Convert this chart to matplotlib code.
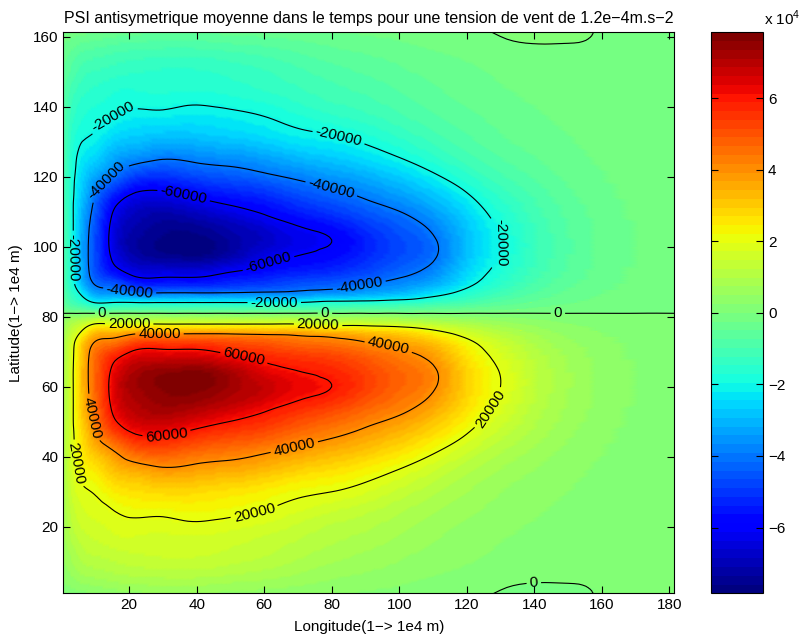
import numpy as np
import matplotlib
matplotlib.use('Agg')
import matplotlib.pyplot as plt
import matplotlib.tri as mtri
from matplotlib.ticker import FuncFormatter

plt.rcParams['font.family'] = ['Liberation Sans', 'DejaVu Sans']
plt.rcParams['mathtext.fontset'] = 'custom'
plt.rcParams['mathtext.rm'] = 'Liberation Sans'
plt.rcParams['axes.linewidth'] = 0.8

# grille (1 -> 1e4 m) ; seule la moitie sud est stockee, le nord en est l'oppose
lon = [0.5, 3, 6, 10, 15, 22, 30, 40, 50, 60, 70, 80, 90, 100, 110, 120, 130,
       145, 160, 181.5]
lat_south = [0.7, 6, 12, 18, 24, 30, 36, 42, 48, 54, 60, 65, 70, 73, 76, 78, 80]

# PSI moyen dans le temps (en milliers), une ligne par latitude de lat_south
psi_south_k = [
    [0.5, 1, 1.5, 2, 3, 4, 4.5, 4.5, 4, 3.5, 3, 2.5, 2, 1.5, 1, 0.8, -0.4, -1.4, 0.3, 0.4],
    [3, 5, 7, 8, 9, 10, 10.5, 10.5, 9.5, 8.5, 7, 5.5, 4.5, 3.5, 2.5, 1.8, 1, 0.6, 0.5, 0.4],
    [5, 8, 11, 12.5, 13.5, 14.5, 15, 15, 14, 12.5, 10.5, 8.5, 7, 5.5, 4, 3, 2, 1.3, 0.8, 0.4],
    [6.5, 11, 14, 15.5, 17, 17.5, 17, 17.5, 16.5, 15, 13, 11, 9.5, 7.5, 5.5, 4, 2.8, 1.8, 1, 0.4],
    [7.5, 13, 16.5, 18, 19.5, 21, 21, 22, 21, 19.5, 17, 14.5, 12.5, 10, 7.5, 5.5, 3.8, 2.3, 1.2, 0.4],
    [8, 15, 19, 20.5, 24, 26.5, 28, 27.5, 26, 24, 21.5, 20, 17.5, 14, 10.5, 7.5, 5, 3, 1.5, 0.4],
    [8.5, 16.5, 22, 25, 31, 35, 38, 36.5, 35, 32.5, 29, 26.5, 23.5, 19.5, 15, 10.5, 7, 4, 2, 0.4],
    [9, 17.5, 25, 33, 40, 49, 51, 47.5, 45, 42, 38.5, 35, 31.5, 27, 21.5, 15.5, 10.5, 5.5, 2.6, 0.4],
    [9, 18, 28, 41, 54, 63, 64, 60, 56, 53, 48, 44, 39.5, 35, 29, 21.5, 14.5, 7.5, 3.3, 0.4],
    [9, 18, 31, 45, 61, 70, 73, 71, 67, 62, 57, 53, 47.5, 42.5, 36, 26.5, 18, 9, 4, 0.4],
    [9, 18, 32, 47, 63, 73, 76.5, 77.5, 73, 68, 63, 60, 53.5, 47, 41, 29, 20, 10, 4.4, 0.4],
    [9, 18, 32, 47, 61, 71, 74, 75, 70.5, 63, 59.5, 57, 52, 46.5, 41, 28.5, 19.5, 9.8, 4.3, 0.4],
    [8.5, 17.5, 31, 45, 53, 61.5, 62, 62, 58, 55, 52, 50, 46, 41.5, 36, 25, 17, 8.5, 3.8, 0.4],
    [8, 16.5, 28, 40, 43, 51, 52, 52, 50, 48, 45, 43, 39.5, 36, 30.5, 21.5, 14.5, 7, 3.2, 0.4],
    [6.5, 13, 20, 30, 31, 34, 34, 34, 34, 33.5, 33, 31, 29, 26.5, 21, 15, 10, 5, 2.3, 0.3],
    [5, 10, 14, 20, 19.5, 19.5, 19.5, 19.5, 19.5, 19.5, 19.5, 17, 16.5, 15, 12.5, 9.5, 6.5, 3.3, 1.6, 0.3],
    [2.5, 4, 5, 7, 6.5, 6.5, 6.5, 6.5, 6.5, 6.5, 6.5, 6, 5.5, 5, 4, 3, 2.2, 1.2, 0.6, 0.2],
]

levels = [-60000, -40000, -20000, 0, 20000, 40000, 60000]
cbar_ticks = [-60000, -40000, -20000, 0, 20000, 40000, 60000]

# endroits ou poser les etiquettes des isolignes
label_spots = [
    (20, 78.5), (76, 78), (128, 53), (57, 24.5), (4, 38),
    (29, 75.5), (97, 72.5), (8, 51), (69, 42.5),
    (54, 68), (31, 47),
    (12, 81), (78, 81), (147, 81), (140, 1.5),
    (16, 136), (82, 131), (4, 97), (63, 84.7), (128, 101),
    (14, 118), (80, 117), (20, 86.5), (88, 90),
    (36, 114), (61, 96),
]

# partie antisymetrique : psi(x, 162 - y) = -psi(x, y)
lat_s = np.array(lat_south, dtype=float)
psi_s = np.array(psi_south_k) * 1000.0
lat = np.concatenate([lat_s, 162 - lat_s[::-1]])
psi = np.vstack([psi_s, -psi_s[::-1]])

X, Y = np.meshgrid(lon, lat)
ny, nx = psi.shape
idx = np.arange(nx * ny).reshape(ny, nx)
half = (ny - 1) // 2
tris = []
for j in range(ny - 1):
    for i in range(nx - 1):
        a, b = idx[j, i], idx[j, i + 1]
        c, d = idx[j + 1, i], idx[j + 1, i + 1]
        if j < half:
            tris += [[a, b, d], [a, d, c]]
        else:
            tris += [[a, b, c], [b, d, c]]
tri = mtri.Triangulation(X.ravel(), Y.ravel(), np.array(tris))
tri_f, psi_f = mtri.UniformTriRefiner(tri).refine_field(psi.ravel(), subdiv=3)

vmax = np.abs(psi_f).max()

fig = plt.figure(figsize=(8, 6.42), dpi=100)
ax = fig.add_axes([0.0791, 0.0759, 0.7638, 0.8738])
cax = fig.add_axes([0.889, 0.0759, 0.065, 0.8738])

mesh = ax.tripcolor(tri_f, psi_f, shading='gouraud',
                    cmap=plt.get_cmap('jet', 64), vmin=-vmax, vmax=vmax)
cs = ax.tricontour(tri_f, psi_f, levels=levels, colors='k',
                   linewidths=0.8, linestyles='solid')
ax.clabel(cs, fmt='%d', fontsize=11, inline=True, inline_spacing=3,
          manual=label_spots)

ax.set_xlim(0.5, 181.5)
ax.set_ylim(1, 161.3)
ax.set_xticks(range(20, 181, 20))
ax.set_yticks(range(20, 161, 20))
ax.tick_params(direction='in', top=True, right=True, length=5, labelsize=11)
ax.set_xlabel('Longitude(1\u2212> 1e4 m)', fontsize=11, labelpad=6)
ax.set_ylabel('Latitude(1\u2212> 1e4 m)', fontsize=11, labelpad=7)
title = ax.set_title('PSI antisymetrique moyenne dans le temps pour une tension '
                     'de vent de 1.2e\u22124m.s\u22122', fontsize=11, pad=7)

cb = fig.colorbar(mesh, cax=cax, ticks=cbar_ticks)
cb.outline.set_linewidth(0.8)
cax.yaxis.set_major_formatter(
    FuncFormatter(lambda v, p: f'{v / 1e4:g}'.replace('-', '\u2212')))
cax.tick_params(direction='in', left=True, right=True, length=5, labelsize=11)
fig.text(0.955, 0.972, 'x 10$^{4}$', fontsize=11, ha='left', va='center')

# le titre occupe toute la largeur des axes
fig.canvas.draw()
w = title.get_window_extent().width
title.set_fontsize(11 * 606 / w)

fig.savefig('out.png', dpi=100)
